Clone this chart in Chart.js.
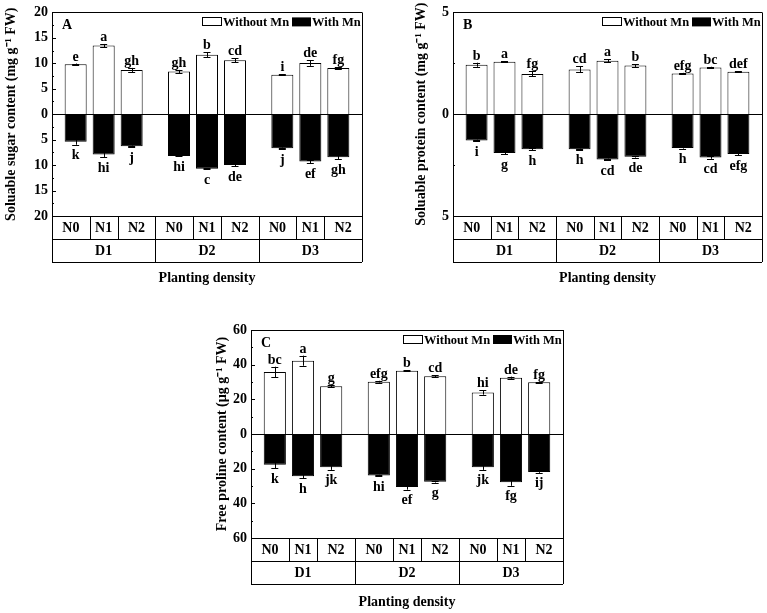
<!DOCTYPE html>
<html>
<head>
<meta charset="utf-8">
<script src="https://cdn.jsdelivr.net/npm/chart.js@4"></script>
<style>
  html, body { margin:0; padding:0; background:#fff; }
  body { width:767px; height:613px; position:relative; overflow:hidden; }
  canvas { position:absolute; }
</style>
</head>
<body>
<canvas id="chartA" width="383" height="292" style="left:0;top:0"></canvas>
<canvas id="chartB" width="384" height="292" style="left:383px;top:0"></canvas>
<canvas id="chartC" width="400" height="313" style="left:190px;top:300px"></canvas>
<script>
const groups = ['D1','D2','D3'];
const levels = ['N0','N1','N2'];

// A - soluble sugar (order D1N0, D1N1, D1N2, D2N0 ...)
const sugarWithout    = [9.8, 13.5, 8.7, 8.4, 11.7, 10.6, 7.75, 10.05, 9.1];
const sugarWithoutErr = [0.15, 0.3, 0.4, 0.3, 0.45, 0.35, 0.1, 0.55, 0.2];
const sugarWith       = [5.4, 7.9, 6.3, 8.2, 10.7, 10.0, 6.7, 9.3, 8.45];
const sugarWithErr    = [0.6, 0.5, 0.15, 0.1, 0.1, 0.2, 0.15, 0.35, 0.4];
const sugarLetTop     = ['e','a','gh','gh','b','cd','i','de','fg'];
const sugarLetBottom  = ['k','hi','j','hi','c','de','j','ef','gh'];

// B - soluble protein
const proteinWithout    = [2.43, 2.58, 1.98, 2.2, 2.63, 2.39, 2.0, 2.29, 2.08];
const proteinWithoutErr = [0.1, 0.03, 0.12, 0.15, 0.07, 0.07, 0.03, 0.04, 0.03];
const proteinWith       = [1.29, 1.9, 1.72, 1.72, 2.22, 2.09, 1.66, 2.13, 1.96];
const proteinWithErr    = [0.04, 0.06, 0.05, 0.03, 0.04, 0.04, 0.03, 0.06, 0.06];
const proteinLetTop     = ['b','a','fg','cd','a','b','efg','bc','def'];
const proteinLetBottom  = ['i','g','h','h','cd','de','h','cd','efg'];

// C - free proline
const prolineWithout    = [35.8, 42.3, 27.5, 30.2, 36.5, 33.3, 24.0, 32.5, 29.8];
const prolineWithoutErr = [3, 2.9, 0.5, 0.5, 0.3, 0.7, 1.3, 0.6, 0.4];
const prolineWith       = [17.7, 24.4, 19.2, 24.0, 30.6, 27.5, 19.2, 27.9, 21.9];
const prolineWithErr    = [2, 1.2, 1.5, 0.5, 1.5, 0.5, 1.5, 2, 0.5];
const prolineLetTop     = ['bc','a','g','efg','b','cd','hi','de','fg'];
const prolineLetBottom  = ['k','h','jk','hi','ef','g','jk','fg','ij'];

const SERIF = "'Liberation Serif', 'Times New Roman', serif";

function px(v){ return Math.round(v) + 0.5; }

const decor = {
  id:'decor',
  afterDraw(chart){
    const c = chart.options.plugins.decor;
    const ctx = chart.ctx;
    const {left:L, right:R, top:T, bottom:B} = chart.chartArea;
    const ys = chart.scales.y;
    ctx.save();
    ctx.strokeStyle = '#000';
    ctx.fillStyle = '#000';
    ctx.lineWidth = 1;

    // bar centres in D1N0..D3N2 order
    const centers = [];
    for (let i = 0; i < groups.length; i++)
      for (let k = 0; k < levels.length; k++)
        centers.push(chart.getDatasetMeta(k).data[i].x);

    // zero line
    ctx.beginPath();
    ctx.moveTo(L, px(ys.getPixelForValue(0)));
    ctx.lineTo(R, px(ys.getPixelForValue(0)));
    ctx.stroke();

    // error bars + letters
    ctx.font = 'bold 14px ' + SERIF;
    ctx.textAlign = 'center';
    centers.forEach((x, j) => {
      const pairs = [[c.up[j], c.upErr[j], 1], [c.down[j], c.downErr[j], -1]];
      pairs.forEach(([v, e, s]) => {
        const y1 = ys.getPixelForValue(s * (v - e));
        const y2 = ys.getPixelForValue(s * (v + e));
        ctx.beginPath();
        ctx.moveTo(px(x), y1); ctx.lineTo(px(x), y2);
        ctx.moveTo(x - 3.5, px(y1)); ctx.lineTo(x + 3.5, px(y1));
        ctx.moveTo(x - 3.5, px(y2)); ctx.lineTo(x + 3.5, px(y2));
        ctx.stroke();
      });
      const yTop = ys.getPixelForValue(c.up[j] + c.upErr[j]);
      ctx.textBaseline = 'alphabetic';
      ctx.fillText(c.letTop[j], x, yTop - 3);
      const yBot = ys.getPixelForValue(-(c.down[j] + c.downErr[j]));
      ctx.textBaseline = 'top';
      ctx.fillText(c.letBottom[j], x, yBot + 4);
    });

    // inward tick marks
    const minor = c.minor;
    for (let v = ys.min; v <= ys.max + 1e-9; v += minor) {
      const y = px(ys.getPixelForValue(v));
      const major = Math.abs(v / (minor * 2) - Math.round(v / (minor * 2))) < 1e-6;
      ctx.beginPath();
      ctx.moveTo(L, y); ctx.lineTo(L + (major ? 4 : 2), y);
      ctx.stroke();
    }

    // frame + category table
    const rowH = 23;
    ctx.beginPath();
    ctx.moveTo(px(L), T); ctx.lineTo(px(L), B + 2 * rowH);
    ctx.moveTo(px(R), T); ctx.lineTo(px(R), B + 2 * rowH);
    ctx.moveTo(L, px(T)); ctx.lineTo(R, px(T));
    [B, B + rowH, B + 2 * rowH].forEach(y => { ctx.moveTo(L, px(y)); ctx.lineTo(R, px(y)); });
    const edges = [L];
    for (let j = 0; j < centers.length - 1; j++) edges.push((centers[j] + centers[j + 1]) / 2);
    edges.push(R);
    for (let j = 1; j < edges.length - 1; j++) {
      const full = j % levels.length === 0;
      ctx.moveTo(px(edges[j]), B);
      ctx.lineTo(px(edges[j]), B + (full ? 2 : 1) * rowH);
    }
    ctx.stroke();

    ctx.font = 'bold 14px ' + SERIF;
    ctx.textBaseline = 'middle';
    ctx.textAlign = 'center';
    for (let j = 0; j < centers.length; j++)
      ctx.fillText(levels[j % levels.length], (edges[j] + edges[j + 1]) / 2, B + rowH / 2 + 1);
    groups.forEach((g, i) => {
      const a = edges[i * 3], b = edges[i * 3 + 3];
      ctx.fillText(g, (a + b) / 2, B + rowH * 1.5 + 1);
    });

    // legend
    ctx.font = 'bold 12.5px ' + SERIF;
    ctx.textAlign = 'left';
    ctx.textBaseline = 'alphabetic';
    ctx.fillStyle = '#fff';
    ctx.fillRect(R - 160, T + 5, 19, 8);
    ctx.strokeRect(px(R - 160), px(T + 5), 19, 8);
    ctx.fillStyle = '#000';
    ctx.fillText('Without Mn', R - 139, T + 14);
    ctx.fillRect(R - 70, T + 5, 19, 9);
    ctx.fillText('With Mn', R - 50, T + 14);

    // panel letter
    ctx.font = 'bold 14px ' + SERIF;
    ctx.fillText(c.tag, L + 10, T + 17);
    ctx.restore();
  }
};

function makePanel(id, o){
  const canvas = document.getElementById(id);
  const cw = canvas.width, ch = canvas.height;
  const datasets = [];
  levels.forEach((lv, k) => datasets.push({
    label:'Without Mn ' + lv, stack:lv,
    data: groups.map((g, i) => o.up[i * 3 + k]),
    backgroundColor:'#fff', borderColor:'#000', borderWidth:1
  }));
  levels.forEach((lv, k) => datasets.push({
    label:'With Mn ' + lv, stack:lv,
    data: groups.map((g, i) => -o.down[i * 3 + k]),
    backgroundColor:'#000', borderColor:'#000', borderWidth:1
  }));
  const titleFont = {family:SERIF, size:14, weight:'bold'};
  new Chart(canvas, {
    type:'bar',
    data:{ labels:groups, datasets },
    options:{
      responsive:false, animation:false,
      layout:{ padding:{ top:o.T, right:cw - o.R, left:0, bottom:0 } },
      datasets:{ bar:{ categoryPercentage:0.813, barPercentage:0.786 } },
      plugins:{
        legend:{display:false}, tooltip:{enabled:false},
        decor:{ up:o.up, upErr:o.upErr, down:o.down, downErr:o.downErr,
                letTop:o.letTop, letBottom:o.letBottom, minor:o.minor, tag:o.tag }
      },
      scales:{
        x:{
          grid:{display:false, drawTicks:false}, border:{display:false},
          ticks:{display:false},
          title:{display:true, text:'Planting density', color:'#000', font:titleFont, padding:{top:0, bottom:o.xPad}},
          afterFit: s => { s.height = ch - o.B; }
        },
        y:{
          min:-o.max, max:o.max,
          grid:{display:false, drawTicks:false}, border:{display:false},
          ticks:{stepSize:o.step, autoSkip:false, padding:4, color:'#000',
                 font:{family:SERIF, size:14, weight:'bold'}, callback: v => Math.abs(v)},
          title:{display:true, text:o.yTitle, color:'#000', font:titleFont, padding:{top:o.yPad, bottom:0}},
          afterFit: s => { s.width = o.L; }
        }
      }
    },
    plugins:[decor]
  });
}

makePanel('chartA', {
  up:sugarWithout, upErr:sugarWithoutErr, down:sugarWith, downErr:sugarWithErr,
  letTop:sugarLetTop, letBottom:sugarLetBottom, tag:'A',
  max:20, step:5, minor:2.5, yTitle:'Soluable sugar content (mg g\u207B\u00B9 FW)',
  L:52, T:9, R:362, B:216, xPad:5, yPad:2.6
});
makePanel('chartB', {
  up:proteinWithout, upErr:proteinWithoutErr, down:proteinWith, downErr:proteinWithErr,
  letTop:proteinLetTop, letBottom:proteinLetBottom, tag:'B',
  max:5, step:5, minor:2.5, yTitle:'Soluable protein content (mg g\u207B\u00B9 FW)',
  L:70, T:9, R:379, B:216, xPad:5, yPad:29.6
});
makePanel('chartC', {
  up:prolineWithout, upErr:prolineWithoutErr, down:prolineWith, downErr:prolineWithErr,
  letTop:prolineLetTop, letBottom:prolineLetBottom, tag:'C',
  max:60, step:20, minor:10, yTitle:'Free proline content (\u00B5g g\u207B\u00B9 FW)',
  L:61, T:30, R:373, B:238, xPad:2.3, yPad:23.6
});
</script>
</body>
</html>
